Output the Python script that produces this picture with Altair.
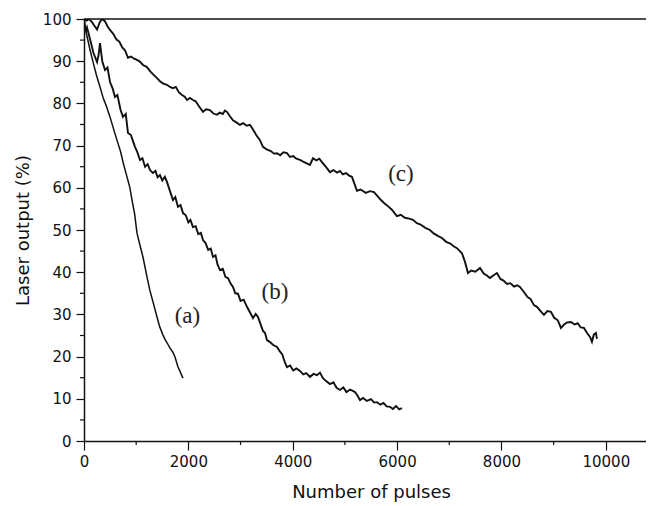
import altair as alt
import pandas as pd

# ---- data ----
a_x = [0, 19, 60, 115, 180, 240, 307, 370, 430, 498, 560, 632, 700, 760, 824, 880, 920, 970,
       1015, 1070, 1130, 1207, 1260, 1330, 1399, 1450, 1514, 1560, 1600, 1648, 1700, 1744, 1800,
       1850, 1897]
a_y = [100, 98, 95.8, 92.7, 89.5, 86.6, 83.9, 81.2, 79.3, 76.8, 74.2, 71.3, 68.6, 65.5, 62.6, 60.0,
       57.1, 53.8, 49.3, 46.5, 43.6, 38.9, 35.8, 32.6, 29.4, 27.1, 25.1, 23.9, 23.1, 22.0, 21.1,
       19.9, 17.6, 16.2, 14.9]

b_x = [0, 30, 57, 120, 180, 250, 280, 307, 350, 402, 450, 500, 550, 594, 640, 700, 747, 800, 843,
       900, 940, 977, 1020, 1073, 1120, 1170, 1220, 1265, 1320, 1370, 1410, 1456, 1500, 1550, 1590,
       1640, 1705, 1750, 1800, 1850, 1897, 1950, 2000, 2040, 2088, 2140, 2190, 2240, 2280, 2330,
       2380, 2430, 2472, 2520, 2560, 2606, 2660, 2710, 2760, 2810, 2855, 2900, 2950, 3000, 3060,
       3123, 3180, 3238, 3290, 3334, 3380, 3430, 3470, 3506, 3560, 3620, 3698, 3750, 3800, 3850,
       3890, 3950, 4010, 4070, 4139, 4200, 4260, 4330, 4400, 4465, 4522, 4580, 4640, 4713, 4780,
       4840, 4905, 4970, 5030, 5100, 5193, 5240, 5289, 5350, 5420, 5500, 5560, 5615, 5680, 5740,
       5800, 5864, 5920, 5980, 6040, 6093]
b_y = [100, 97, 98, 95, 92, 89.8, 91.5, 94.3, 90, 87.9, 88.5, 85, 83.5, 81.5, 82, 78.5, 76.8, 77.5,
       73, 72.5, 71, 69.7, 68.5, 66.6, 67, 65, 65.6, 64.2, 63.5, 64, 62.5, 63, 61.7, 62.6, 61.4,
       59.5, 57.1, 57.8, 55.5, 55.9, 54, 53.5, 51.8, 52.4, 50.7, 50.9, 49, 49.3, 47.6, 46.9,
       45.3, 45.6, 43.6, 44, 41.8, 40.5, 40.8, 38.9, 38.6, 37.3, 36.5, 35, 34.9, 33.2, 33.5,
       31.8, 30.5, 29.1, 30.1, 29.4, 27.8, 26.1, 25.6, 23.9, 23.5, 22.8, 22.3, 21.3, 20.5, 18.6,
       17.5, 17.9, 16.7, 17.2, 16.6, 15.8, 16.1, 15.2, 15.9, 15.6, 16.2, 14.9, 14.2, 13.5, 13.9,
       12.6, 12.1, 12.7, 11.6, 12.2, 11.6, 10.8, 9.7, 10.2, 9.5, 9.9, 9.1, 9.2, 8.6, 9.0,
       8.2, 8.1, 7.6, 8.3, 7.5, 7.8]

c_x = [0, 50, 96, 150, 192, 250, 300, 345, 400, 450, 498, 560, 620, 680, 730, 785, 843, 900, 960,
       1015, 1070, 1130, 1207, 1270, 1330, 1399, 1460, 1520, 1590, 1648, 1705, 1760, 1820, 1878,
       1930, 1974, 2030, 2088, 2140, 2200, 2280, 2340, 2414, 2480, 2549, 2600, 2660, 2700, 2740,
       2800, 2855, 2920, 2989, 3050, 3120, 3181, 3230, 3300, 3372, 3430, 3500, 3580, 3640, 3698,
       3760, 3820, 3890, 3947, 4010, 4070, 4139, 4200, 4270, 4330, 4388, 4450, 4510, 4560, 4640,
       4713, 4780, 4850, 4905, 4960, 5020, 5080, 5135, 5231, 5300, 5400, 5480, 5557, 5620, 5691,
       5760, 5830, 5900, 5997, 6070, 6150, 6230, 6304, 6380, 6450, 6540, 6630, 6700, 6780, 6860,
       6940, 7020, 7090, 7147, 7243, 7300, 7358, 7420, 7500, 7588, 7660, 7720, 7779, 7850, 7914,
       7980, 8040, 8105, 8170, 8240, 8300, 8354, 8430, 8500, 8560, 8622, 8680, 8750, 8814, 8880,
       8948, 9010, 9080, 9140, 9200, 9260, 9332, 9400, 9460, 9520, 9581, 9640, 9700, 9734, 9770,
       9811, 9830]
c_y = [100, 99.6, 100, 99.3, 98.5, 97.5, 99.2, 100, 99.5, 98.3, 97.4, 96.5, 95.2, 94.6, 93.3, 92.6,
       90.8, 91.1, 90.6, 90.3, 89.9, 89.1, 88.6, 87.6, 86.8, 86.0, 85.2, 84.7, 84.4, 83.9, 83.6,
       83.9, 82.6, 82.0, 81.6, 80.8, 81.3, 80.8, 80.5, 79.4, 78.0, 78.6, 78.4, 77.6, 77.3, 77.8,
       77.5, 78.3, 78.0, 76.9, 76.0, 75.5, 74.9, 75.3, 74.7, 74.9, 74.0, 72.5, 71.3, 69.7, 69.1,
       68.7, 68.1, 68.2, 67.7, 68.4, 68.2, 67.3, 67.5, 66.9, 66.6, 66.2, 65.8, 65.4, 67.0, 66.5,
       66.9, 66.1, 64.9, 63.7, 64.2, 63.6, 64.0, 63.2, 63.5, 62.9, 62.6, 59.3, 59.6, 58.8, 59.2,
       59.0, 58.1, 57.1, 56.3, 55.6, 54.8, 53.3, 53.6, 52.9, 52.7, 52.4, 51.6, 51.3, 50.5, 50.0,
       49.2, 48.6, 48.1, 47.2, 46.8, 46.1, 45.7, 44.5, 42.5, 39.8, 40.4, 40.1, 41.0, 39.7, 39.2,
       38.6, 39.3, 39.8, 38.4, 38.0, 37.2, 37.4, 36.6, 36.9, 36.5, 35.3, 34.1, 33.6, 32.2, 31.8,
       30.8, 29.9, 30.8, 30.6, 29.2, 28.6, 26.8, 27.6, 28.1, 28.2, 27.6, 27.9, 26.9, 26.8, 25.6,
       24.6, 23.5, 25.2, 25.6, 24.2]

labels = ["(a)", "(b)", "(c)"]
label_x = [1983, 3660, 6073]
label_y = [29.6, 35.3, 63.3]

x_major = [0, 2000, 4000, 6000, 8000, 10000]
x_minor = [1000, 3000, 5000, 7000, 9000]
y_major = [0, 10, 20, 30, 40, 50, 60, 70, 80, 90, 100]
y_minor = [5, 15, 25, 35, 45, 55, 65, 75, 85, 95]

W, H = 562, 422
XMAX = 10770

rows = []
for name, xs, ys in (("a", a_x, a_y), ("b", b_x, b_y), ("c", c_x, c_y)):
    for xv, yv in zip(xs, ys):
        rows.append({"series": name, "x": xv, "y": yv})
df = pd.DataFrame(rows)

xscale = alt.Scale(domain=[0, XMAX], nice=False, zero=False)
yscale = alt.Scale(domain=[0, 100], nice=False)

base = alt.Chart(df)

line_thin = base.transform_filter(alt.datum.series == "a").mark_line(
    color="#111111", strokeWidth=1.5, clip=True
).encode(
    x=alt.X("x:Q", scale=xscale, title="Number of pulses",
            axis=alt.Axis(values=x_major, format="d", titleX=287)),
    y=alt.Y("y:Q", scale=yscale, title="Laser output (%)",
            axis=alt.Axis(values=y_major)),
    detail="series:N",
)

line_thick = base.transform_filter(alt.datum.series != "a").mark_line(
    color="#111111", strokeWidth=1.9, clip=True
).encode(
    x=alt.X("x:Q", scale=xscale),
    y=alt.Y("y:Q", scale=yscale),
    detail="series:N",
)

lab_df = pd.DataFrame({"t": labels, "x": label_x, "y": label_y})
text = alt.Chart(lab_df).mark_text(
    font="Liberation Serif", fontSize=23, color="#222222", baseline="middle", align="center"
).encode(x=alt.X("x:Q", scale=xscale), y=alt.Y("y:Q", scale=yscale), text="t:N")

top_rule = alt.Chart(pd.DataFrame({"v": [100]})).mark_rule(color="#111111", strokeWidth=1.5).encode(
    y=alt.Y("v:Q", scale=yscale), x=alt.value(0), x2=alt.value(W)
)

xminor = alt.Chart(pd.DataFrame({"v": x_minor})).mark_rule(color="#111111", strokeWidth=1.2).encode(
    x=alt.X("v:Q", scale=xscale), y=alt.value(H), y2=alt.value(H + 4)
)
yminor = alt.Chart(pd.DataFrame({"v": y_minor})).mark_rule(color="#111111", strokeWidth=1.2).encode(
    y=alt.Y("v:Q", scale=yscale), x=alt.value(0), x2=alt.value(-4)
)

chart = alt.layer(line_thin, line_thick, text, top_rule, xminor, yminor).properties(
    width=W, height=H,
    autosize=alt.AutoSizeParams(type="none"),
    padding={"left": 76, "top": 11, "right": 0, "bottom": 64},
).configure_view(stroke=None).configure_axis(
    grid=False, labelFlush=False,
    domainColor="#111111", domainWidth=1.5,
    tickColor="#111111", tickWidth=1.2, tickSize=9,
    labelFont="DejaVu Sans", labelFontSize=15, labelColor="#111111",
    titleFont="DejaVu Sans", titleFontSize=18, titleFontWeight="normal", titleColor="#111111",
).configure_axisX(
    labelPadding=4, titlePadding=14,
).configure_axisY(
    tickSize=8, labelPadding=5, titlePadding=10,
)

chart.save("out.html", embed_options={"renderer": "svg", "actions": False})
